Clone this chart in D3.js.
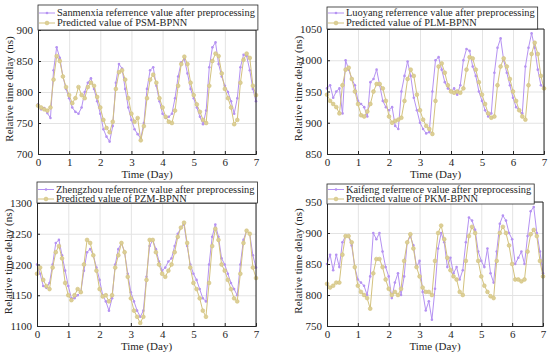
<!DOCTYPE html>
<html>
<head>
<meta charset="utf-8">
<script src="https://cdn.jsdelivr.net/npm/d3@7"></script>
<style>
  body { margin: 0; background: #fff; }
  svg { font-family: "Liberation Serif", "Times New Roman", serif; }
  .grid line { stroke: #e3e3e3; }
  .grid path { display: none; }
</style>
</head>
<body>
<div id="chart"></div>
<script>
// time axis, one sample every 0.1 day
var days = d3.range(0, 71).map(function(i) { return i / 10; });
var xTicks = [0, 1, 2, 3, 4, 5, 6, 7];

// Sanmenxia
var smxRef = [780,772,774,766,758,835,872,855,825,805,790,775,768,765,775,800,815,822,805,785,
  765,740,728,720,745,815,845,838,805,775,755,740,732,725,750,805,835,840,810,785,
  765,758,760,765,790,825,848,853,830,805,790,775,760,748,770,840,872,880,845,825,
  810,800,785,765,790,840,860,858,835,805,785];
var smxPred = [778,775,772,770,775,820,858,850,825,808,795,782,790,808,795,790,808,815,810,792,
  775,755,742,735,752,805,832,835,820,790,765,752,758,722,745,790,820,828,815,790,
  775,760,752,750,770,810,845,857,845,815,795,780,768,755,750,810,850,862,858,830,
  805,790,775,748,755,815,852,862,855,810,795];

// Luoyang
var lyRef = [955,960,940,950,955,915,1000,985,970,960,935,930,925,910,965,970,985,960,935,925,
  920,925,895,890,950,975,998,975,940,920,900,890,883,885,950,1000,1005,985,965,955,
  950,955,945,960,1000,1018,1015,990,975,950,935,920,910,915,980,1020,1035,1000,980,960,
  940,925,920,915,990,1020,1043,1020,985,960,955];
var lyPred = [945,935,930,925,915,960,985,988,970,950,930,912,910,918,930,950,962,962,955,935,
  910,900,903,905,908,935,970,985,975,945,920,905,895,890,882,935,990,995,980,960,
  950,948,950,948,955,985,1005,1003,985,965,945,930,915,908,910,960,990,1003,990,970,
  950,935,920,910,905,960,1010,1028,1010,975,955];

// Zhengzhou
var zzRef = [1200,1185,1165,1162,1170,1200,1235,1240,1215,1190,1165,1145,1145,1150,1155,1190,1220,1225,1215,1195,
  1175,1150,1140,1125,1145,1200,1225,1235,1220,1185,1155,1140,1125,1115,1125,1180,1230,1240,1225,1205,
  1190,1195,1205,1210,1230,1250,1260,1265,1230,1200,1185,1175,1160,1145,1140,1200,1245,1265,1245,1210,
  1200,1185,1170,1160,1150,1200,1240,1255,1250,1215,1195];
var zzPred = [1185,1195,1175,1165,1160,1195,1220,1230,1210,1170,1150,1142,1150,1160,1155,1200,1240,1235,1215,1190,
  1160,1148,1150,1140,1150,1195,1215,1235,1220,1180,1145,1125,1115,1105,1115,1175,1240,1240,1220,1200,
  1185,1180,1190,1200,1220,1245,1260,1268,1235,1195,1170,1160,1145,1125,1115,1170,1230,1258,1240,1200,
  1190,1175,1160,1145,1140,1185,1235,1255,1250,1195,1178];

// Kaifeng
var kfRef = [850,865,840,865,845,885,895,895,880,845,825,820,815,800,830,900,890,900,870,845,
  830,795,820,835,800,830,885,895,880,845,855,805,775,790,760,810,875,900,885,845,
  860,835,845,825,840,885,925,920,905,870,855,845,875,835,820,870,915,928,920,900,
  890,850,860,870,850,895,935,942,900,870,835];
var kfPred = [818,812,815,820,820,865,895,895,885,845,815,805,800,795,778,835,858,858,845,825,
  810,800,805,800,810,855,885,898,875,845,830,812,805,805,800,855,900,912,890,860,
  840,830,825,805,800,855,895,910,900,855,830,815,805,798,795,855,900,910,900,880,
  850,825,825,822,825,870,898,905,895,855,830];

var panels = [
  {left: 38, top: 30, w: 218, h: 124, yDom: [700, 900], yTicks: [700, 750, 800, 850, 900],
   ref: smxRef, pred: smxPred, legTop: 5, legH: 25, row1: 8, row2: 18,
   lab1: "Sanmenxia referrence value after preprocessing", lab2: "Predicted value of PSM-BPNN"},
  {left: 327, top: 29, w: 217, h: 125, yDom: [850, 1050], yTicks: [850, 900, 950, 1000, 1050],
   ref: lyRef, pred: lyPred, legTop: 7, legH: 22, row1: 6, row2: 16,
   lab1: "Luoyang referrence value after preprocessing", lab2: "Predicted value of PLM-BPNN"},
  {left: 37, top: 203, w: 219, h: 123, yDom: [1100, 1300], yTicks: [1100, 1150, 1200, 1250, 1300],
   ref: zzRef, pred: zzPred, legTop: 182, legH: 21, row1: 7.5, row2: 17,
   lab1: "Zhengzhou referrence value after preprocessing", lab2: "Predicted value of PZM-BPNN"},
  {left: 327, top: 202, w: 216, h: 124, yDom: [750, 950], yTicks: [750, 800, 850, 900, 950],
   ref: kfRef, pred: kfPred, legTop: 184, legH: 20, row1: 5.5, row2: 15,
   lab1: "Kaifeng referrence value after preprocessing", lab2: "Predicted value of PKM-BPNN"}
];

var refColor = "#b592f2",
    predColor = "#d3c27e";

var svg = d3.select("#chart").append("svg")
    .attr("width", 550)
    .attr("height", 357)
    .attr("font-family", "Liberation Serif, serif");

panels.forEach(function(p) {
  var g = svg.append("g")
      .attr("transform", "translate(" + p.left + "," + p.top + ")");

  var x = d3.scaleLinear().domain([0, 7]).range([0, p.w]);
  var y = d3.scaleLinear().domain(p.yDom).range([p.h, 0]);

  // gridlines
  g.append("g").attr("class", "grid")
      .attr("transform", "translate(0," + p.h + ")")
      .call(d3.axisBottom(x).tickValues(xTicks).tickSize(-p.h).tickFormat(""));
  g.append("g").attr("class", "grid")
      .call(d3.axisLeft(y).tickValues(p.yTicks).tickSize(-p.w).tickFormat(""));

  var line = d3.line()
      .x(function(d, i) { return x(days[i]); })
      .y(function(d) { return y(d); });

  // reference series
  g.append("path").datum(p.ref)
      .attr("fill", "none").attr("stroke", refColor).attr("stroke-width", 1)
      .attr("d", line);
  g.selectAll(".refdot").data(p.ref).enter().append("circle")
      .attr("cx", function(d, i) { return x(days[i]); })
      .attr("cy", function(d) { return y(d); })
      .attr("r", 1.3)
      .attr("fill", refColor);

  // predicted series
  g.append("path").datum(p.pred)
      .attr("fill", "none").attr("stroke", predColor).attr("stroke-width", 1)
      .attr("d", line);
  g.selectAll(".preddot").data(p.pred).enter().append("circle")
      .attr("cx", function(d, i) { return x(days[i]); })
      .attr("cy", function(d) { return y(d); })
      .attr("r", 1.9)
      .attr("fill", "#dccf96")
      .attr("stroke", predColor)
      .attr("stroke-width", 0.6);

  // axes, ticks inward
  var xa = g.append("g")
      .attr("transform", "translate(0," + p.h + ")")
      .call(d3.axisBottom(x).tickValues(xTicks).tickSize(-3).tickPadding(4).tickFormat(d3.format("d")));
  var ya = g.append("g")
      .call(d3.axisLeft(y).tickValues(p.yTicks).tickSize(-3).tickPadding(5).tickFormat(d3.format("d")));
  [xa, ya].forEach(function(a) {
    a.attr("font-family", "Liberation Serif, serif");
    a.select(".domain").attr("stroke", "#262626");
    a.selectAll(".tick line").attr("stroke", "#262626");
    a.selectAll("text").attr("fill", "#262626").attr("font-size", "11px");
  });

  // box top/right
  g.append("path")
      .attr("d", "M0,0H" + p.w + "V" + p.h)
      .attr("fill", "none").attr("stroke", "#262626");

  g.append("text")
      .attr("x", p.w / 2).attr("y", p.h + 24)
      .attr("text-anchor", "middle")
      .attr("font-size", "11px").attr("fill", "#262626")
      .text("Time (Day)");

  g.append("text")
      .attr("transform", "rotate(-90)")
      .attr("x", -p.h / 2 + 3).attr("y", -25)
      .attr("text-anchor", "middle")
      .attr("font-size", "11px").attr("fill", "#262626")
      .text("Relative time delay (ns)");

  // legend above the axes
  var lg = g.append("g").attr("transform", "translate(0," + (p.legTop - p.top) + ")");
  var t1 = lg.append("text").attr("x", 19).attr("y", p.row1 + 3.3)
      .attr("font-size", "10.4px").attr("fill", "#262626").text(p.lab1);
  var t2 = lg.append("text").attr("x", 19).attr("y", p.row2 + 3.3)
      .attr("font-size", "10.4px").attr("fill", "#262626").text(p.lab2);
  var lw = Math.max(t1.node().getComputedTextLength(), t2.node().getComputedTextLength()) + 22;
  lg.insert("rect", ":first-child")
      .attr("x", 0).attr("y", 0).attr("width", lw).attr("height", p.legH)
      .attr("fill", "#fff").attr("stroke", "#262626").attr("stroke-width", 0.8);
  lg.append("line").attr("x1", 1).attr("x2", 17).attr("y1", p.row1).attr("y2", p.row1)
      .attr("stroke", refColor);
  lg.append("circle").attr("cx", 9).attr("cy", p.row1).attr("r", 1.3).attr("fill", refColor);
  lg.append("line").attr("x1", 1).attr("x2", 17).attr("y1", p.row2).attr("y2", p.row2)
      .attr("stroke", predColor);
  lg.append("circle").attr("cx", 9).attr("cy", p.row2).attr("r", 1.9)
      .attr("fill", "#dccf96").attr("stroke", predColor).attr("stroke-width", 0.6);
});
</script>
</body>
</html>
